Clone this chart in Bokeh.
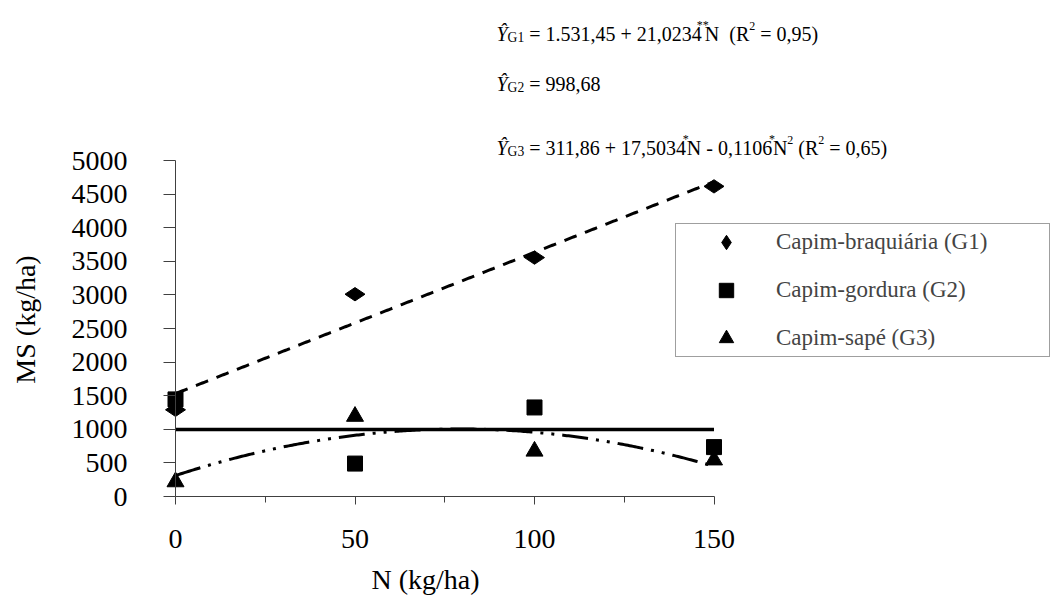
import numpy as np
from bokeh.plotting import figure
from bokeh.models import Range1d, FixedTicker, Label, Legend, LegendItem
from bokeh.embed import file_html
from bokeh.resources import INLINE

# ---------------------------------------------------------------- data
n_doses = [0, 50, 100, 150]                 # N (kg/ha)
ms_braquiaria = [1290, 3010, 3555, 4615]    # G1, MS (kg/ha)
ms_gordura = [1445, 490, 1325, 735]         # G2, MS (kg/ha)
ms_sape = [218, 1192, 674, 543]             # G3, MS (kg/ha)

series_names = ["Capim-braquiária (G1)", "Capim-gordura (G2)", "Capim-sapé (G3)"]

# fitted models
g1_coef = (1531.45, 21.0234)                # linear
g2_mean = 998.68                            # mean only
g3_coef = (311.86, 17.5034, -0.1106)        # quadratic

x_tick_values = [0, 50, 100, 150]
x_minor_values = [25, 75, 125]
y_tick_values = [0, 500, 1000, 1500, 2000, 2500, 3000, 3500, 4000, 4500, 5000]

# ---------------------------------------------------------------- layout
# The frame fills the whole canvas; both axes are pinned at the origin so
# nothing (markers on the edges, legend, equations) gets clipped.
W, H = 1050, 595
ORIGIN_X, ORIGIN_Y = 175.0, 496.0           # pixel position of (0, 0)
PX_PER_N = (713.5 - ORIGIN_X) / 150.0
PX_PER_MS = (ORIGIN_Y - 160.0) / 5000.0
X0, X1 = -ORIGIN_X / PX_PER_N, (W - ORIGIN_X) / PX_PER_N
Y0, Y1 = -(H - ORIGIN_Y) / PX_PER_MS, ORIGIN_Y / PX_PER_MS
FONT = "Liberation Serif"
AXIS_COLOR = "#404040"

p = figure(width=W, height=H, x_range=Range1d(X0, X1), y_range=Range1d(Y0, Y1),
           output_backend="svg", toolbar_location=None,
           min_border_left=0, min_border_right=0,
           min_border_top=0, min_border_bottom=0)
p.grid.visible = False
p.outline_line_color = None
p.background_fill_color = "white"
p.border_fill_color = "white"

xa = p.xaxis[0]
xa.ticker = FixedTicker(ticks=x_tick_values, minor_ticks=x_minor_values)
xa.fixed_location = 0
xa.bounds = (x_tick_values[0], x_tick_values[-1])
xa.major_tick_in = 0
xa.major_tick_out = 8
xa.minor_tick_in = 0
xa.minor_tick_out = 6
xa.major_label_standoff = 25

ya = p.yaxis[0]
ya.ticker = FixedTicker(ticks=y_tick_values, minor_ticks=[])
ya.fixed_location = 0
ya.bounds = (y_tick_values[0], y_tick_values[-1])
ya.major_tick_in = 0
ya.major_tick_out = 12
ya.minor_tick_out = 0
ya.major_label_standoff = 36

for ax in (xa, ya):
    ax.axis_line_color = AXIS_COLOR
    ax.axis_line_width = 1
    ax.major_tick_line_color = AXIS_COLOR
    ax.minor_tick_line_color = AXIS_COLOR
    ax.major_label_text_font = FONT
    ax.major_label_text_font_size = "28px"
    ax.major_label_text_color = "black"


def to_data(sx, sy):
    """Pixel position on the canvas -> data coordinates."""
    return X0 + sx / PX_PER_N, Y1 - sy / PX_PER_MS


# axis titles
tx, ty = to_data(425, 579)
p.add_layout(Label(x=tx, y=ty, text="N (kg/ha)", text_font=FONT,
                   text_font_size="28px", text_align="center", text_baseline="middle",
                   text_color="black"))
tx, ty = to_data(25, 319)
p.add_layout(Label(x=tx, y=ty, text="MS (kg/ha)", text_font=FONT,
                   text_font_size="28px", text_align="center", text_baseline="middle",
                   angle=np.pi / 2, text_color="black"))

# ---------------------------------------------------------------- fitted curves
xs = np.linspace(n_doses[0], n_doses[-1], 301)
p.line(xs, g1_coef[0] + g1_coef[1] * xs, line_color="black", line_width=3,
       line_dash="13 9")
p.line([n_doses[0], n_doses[-1]], [g2_mean, g2_mean], line_color="black", line_width=3.5)
p.line(xs, g3_coef[0] + g3_coef[1] * xs + g3_coef[2] * xs ** 2, line_color="black",
       line_width=3, line_dash="26 8 3 8 3 8")

# ---------------------------------------------------------------- observed values
r1 = p.scatter(n_doses, ms_braquiaria, marker="diamond", size=20, angle=np.pi / 2,
               color="black")
r2 = p.scatter(n_doses, ms_gordura, marker="square", size=15, color="black")
r3 = p.scatter(n_doses, ms_sape, marker="triangle", size=17, color="black")

legend = Legend(items=[LegendItem(label=series_names[0], renderers=[r1]),
                       LegendItem(label=series_names[1], renderers=[r2]),
                       LegendItem(label=series_names[2], renderers=[r3])],
                location=(675, H - 357), orientation="vertical", padding=0, spacing=12,
                glyph_width=100, glyph_height=36, label_height=36, label_width=273,
                label_standoff=0, margin=0,
                label_text_font=FONT, label_text_font_size="23px",
                border_line_color=AXIS_COLOR, border_line_width=1,
                background_fill_color="white", background_fill_alpha=1)
p.add_layout(legend)

# ---------------------------------------------------------------- regression equations
ADV = {' ': 250, '(': 333, ')': 333, '*': 500, '+': 564, ',': 250, '-': 333, '.': 250,
       '=': 564, 'N': 722, 'R': 667, 'G': 722, 'Ŷ': 556}


def advance(text, size):
    return sum(ADV.get(ch, 500) for ch in text) * size / 1000.0


EQ = 20  # font size of the equations


def equation(parts, sx, baseline):
    # parts: (text, relative size, baseline shift, overlap, italic)
    for text, rel, shift, overlap, italic in parts:
        size = EQ * rel
        sx -= overlap
        xd, yd = to_data(sx, baseline + shift)
        # non-breaking spaces keep leading/double spaces in the SVG text
        p.add_layout(Label(x=xd, y=yd, text=text.replace(" ", "\u00a0"), text_font=FONT,
                           text_font_size=f"{size:.1f}px",
                           text_font_style="italic" if italic else "normal",
                           text_align="left", text_baseline="alphabetic",
                           text_color="black"))
        sx += advance(text, size)


SUB, SUP = 0.68, 0.6
equation([("Ŷ", 1, 0, 0, True), ("G1", SUB, 4, 0, False),
          (" = 1.531,45 + 21,0234", 1, 0, 0, False), ("**", SUP, -9, 5, False),
          ("N  (R", 1, 0, 4, False), ("2", SUP, -8, 0, False),
          (" = 0,95)", 1, 0, 0, False)], 496, 33)
equation([("Ŷ", 1, 0, 0, True), ("G2", SUB, 4, 0, False),
          (" = 998,68", 1, 0, 0, False)], 496, 83)
equation([("Ŷ", 1, 0, 0, True), ("G3", SUB, 4, 0, False),
          (" = 311,86 + 17,5034", 1, 0, 0, False), ("*", SUP, -9, 4, False),
          ("N - 0,1106", 1, 0, 2, False), ("*", SUP, -9, 4, False),
          ("N", 1, 0, 2, False), ("2", SUP, -8, 0, False),
          (" (R", 1, 0, 0, False), ("2", SUP, -8, 0, False),
          (" = 0,65)", 1, 0, 0, False)], 496, 147)

open("out.html", "w").write(file_html(p, INLINE))
